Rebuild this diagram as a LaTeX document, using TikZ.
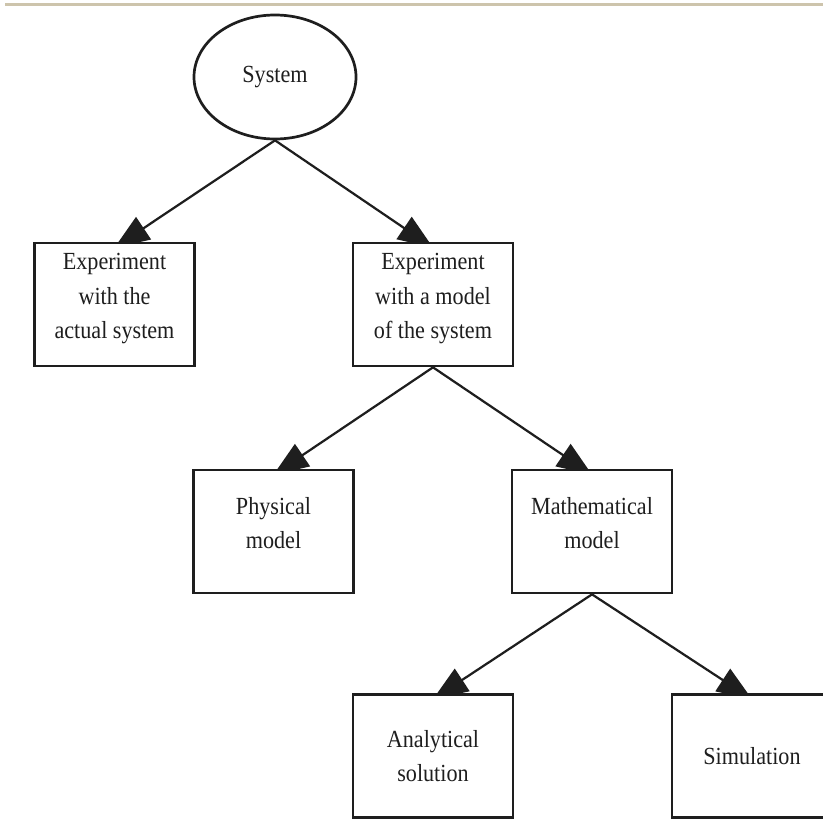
\documentclass[tikz,border=0pt]{standalone}
\usepackage{fontspec}
\setmainfont{Liberation Serif}[FakeStretch=0.9]
\usetikzlibrary{shapes.geometric,arrows.meta,calc}
\pgfdeclarelayer{background}
\pgfsetlayers{background,main}
\definecolor{inkline}{RGB}{30,30,30}
\definecolor{textink}{RGB}{30,30,30}
\definecolor{rulecol}{RGB}{205,196,172}
\newcommand\boxtextfont{\fontsize{21pt}{29.4pt}\selectfont}
% extra depth under the last line raises a block of text a little in its box
\newcommand\liftup{\rule[-0.5cm]{0pt}{0pt}}
\tikzset{
  stepbox/.style={draw=inkline, line width=2.3pt, fill=white, rectangle,
    minimum width=4.8cm, minimum height=3.69cm, inner sep=0pt,
    align=center, font=\boxtextfont, text=textink},
  rootnode/.style={draw=inkline, line width=2.3pt, fill=white, ellipse,
    minimum width=4.86cm, minimum height=3.72cm, inner sep=0pt,
    font=\boxtextfont, text=textink},
  link/.style={draw=inkline, line width=1.9pt,
    -{Triangle[length=1.05cm,width=0.8cm]}},
  toprule/.style={draw=rulecol, line width=2.5pt}
}
\begin{document}
\begin{tikzpicture}[x=0.03cm, y=-0.03cm]
  \useasboundingbox (0,0) rectangle (823,820);
  \clip (0,0) rectangle (823,820);

  % thin rule along the top edge
  \coordinate (ruleL) at (5,4.5);
  \coordinate (ruleR) at (823,4.5);
  \draw[toprule] (ruleL) -- (ruleR);

  % hierarchy of nodes
  \node[rootnode] (sys) at (275,77) {System};
  \node[stepbox] (actual) at (114.5,304.5) {Experiment\\with the\\actual system\liftup};
  \node[stepbox] (withmodel) at (433,304.5) {Experiment\\with a model\\of the system\liftup};
  \node[stepbox] (physical) at (273.5,531.5) {Physical\\model\liftup};
  \node[stepbox] (math) at (592,531.5) {Mathematical\\model\liftup};
  \node[stepbox] (analytic) at (433,756) {Analytical\\solution};
  \node[stepbox] (sim) at (752,756) {Simulation};

  % connectors, drawn underneath the boxes so the tips tuck under the borders
  \begin{pgfonlayer}{background}
    \draw[link] (sys.south) -- ($(actual.north)+(0,6)$);
    \draw[link] (sys.south) -- ($(withmodel.north)+(0,6)$);
    \draw[link] (withmodel.south) -- ($(physical.north)+(0,6)$);
    \draw[link] (withmodel.south) -- ($(math.north)+(0,6)$);
    \draw[link] (math.south) -- ($(analytic.north)+(0,6)$);
    \draw[link] (math.south) -- ($(sim.north)+(0,6)$);
  \end{pgfonlayer}
\end{tikzpicture}
\end{document}
